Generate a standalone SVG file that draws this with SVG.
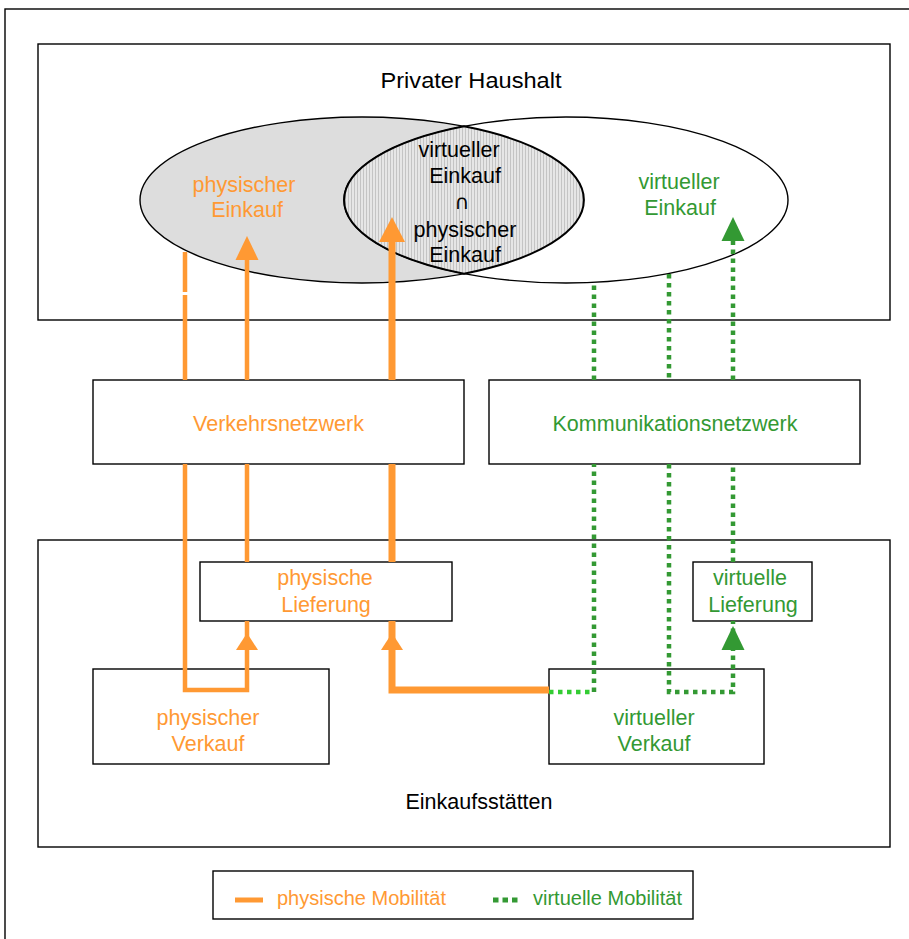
<svg xmlns="http://www.w3.org/2000/svg" xmlns:xlink="http://www.w3.org/1999/xlink" width="909" height="939" viewBox="0 0 909 939">
  <style>
    .frame { fill: none; stroke: #000; stroke-width: 1.4; }
    .box { fill: #fff; stroke: #000; stroke-width: 1.4; }
    .t { font-family: "Liberation Sans", Arial, "DejaVu Sans", sans-serif; font-size: 21.5px; text-anchor: middle; }
    .lg { font-family: "Liberation Sans", Arial, sans-serif; font-size: 20px; }
    .k { fill: #000; }
    .or { fill: #ff9933; }
    .gr { fill: #339933; }
    .phys { fill: none; stroke: #ff9933; stroke-width: 4.5; }
    .thick { stroke-width: 7; }
    .virt { fill: none; stroke: #339933; stroke-width: 4.5; stroke-dasharray: 4.5 4.5; }
    .virtLight { stroke: #33cc33; }
  </style>
  <defs>
    <pattern id="stripes" width="3" height="10" patternUnits="userSpaceOnUse">
      <rect width="3" height="10" fill="#e6e6e6"/>
      <rect width="1" height="10" fill="#c4c4c4"/>
    </pattern>
    <!-- upward arrowheads, tip at the origin -->
    <path id="headUp" d="M0,0 L11.5,24 L-11.5,24 Z"/>
    <path id="headUpWide" d="M0,0 L13,25 L-13,25 Z"/>
    <path id="headShort" d="M0,0 L11,17 L-11,17 Z"/>
  </defs>

  <!-- outer frame -->
  <rect class="frame" x="5" y="9" width="920" height="950"/>

  <!-- household -->
  <g id="privater-haushalt">
    <rect class="frame" x="38" y="44" width="852" height="276"/>
    <text class="t k" x="471" y="88" textLength="181" lengthAdjust="spacingAndGlyphs">Privater Haushalt</text>
  </g>

  <g id="physischer-einkauf">
    <ellipse cx="362" cy="200" rx="222" ry="83" fill="#dddddd" stroke="#000" stroke-width="1.4"/>
    <text class="t or" x="244" y="192">physischer</text>
    <text class="t or" x="247" y="217">Einkauf</text>
  </g>

  <g id="virtueller-einkauf">
    <ellipse cx="566" cy="200" rx="222" ry="83" fill="#fff" stroke="#000" stroke-width="1.4"/>
    <text class="t gr" x="679" y="189">virtueller</text>
    <text class="t gr" x="680" y="215">Einkauf</text>
  </g>

  <g id="schnittmenge">
    <path d="M464,126.3 A222,83 0 0,1 464,273.7 A222,83 0 0,1 464,126.3 Z" fill="url(#stripes)" stroke="#000" stroke-width="2"/>
    <text class="t k" x="459" y="157">virtueller</text>
    <text class="t k" x="465" y="183">Einkauf</text>
    <text class="t k" x="462" y="209" style="font-family:'DejaVu Sans',sans-serif;font-size:20px">∩</text>
    <text class="t k" x="465" y="237">physischer</text>
    <text class="t k" x="465" y="262">Einkauf</text>
  </g>

  <!-- networks -->
  <g id="verkehrsnetzwerk">
    <rect class="box" x="93" y="380" width="371" height="84"/>
    <text class="t or" x="278.5" y="431">Verkehrsnetzwerk</text>
  </g>
  <g id="kommunikationsnetzwerk">
    <rect class="box" x="489" y="380" width="371" height="84"/>
    <text class="t gr" x="675" y="431">Kommunikationsnetzwerk</text>
  </g>

  <!-- shops -->
  <g id="einkaufsstaetten">
    <rect class="frame" x="38" y="540" width="852" height="307"/>
    <text class="t k" x="479" y="809">Einkaufsstätten</text>
  </g>
  <g id="physische-lieferung">
    <rect class="box" x="200" y="562" width="252" height="59"/>
    <text class="t or" x="325" y="585">physische</text>
    <text class="t or" x="326" y="612">Lieferung</text>
  </g>
  <g id="virtuelle-lieferung">
    <rect class="box" x="693" y="562" width="119" height="59"/>
    <text class="t gr" x="750" y="585">virtuelle</text>
    <text class="t gr" x="753" y="612">Lieferung</text>
  </g>
  <g id="physischer-verkauf">
    <rect class="box" x="93" y="669" width="236" height="95"/>
    <text class="t or" x="208" y="725">physischer</text>
    <text class="t or" x="208" y="751">Verkauf</text>
  </g>
  <g id="virtueller-verkauf">
    <rect class="box" x="549" y="669" width="215" height="95"/>
    <text class="t gr" x="654" y="725">virtueller</text>
    <text class="t gr" x="654" y="751">Verkauf</text>
  </g>

  <!-- flows -->
  <g id="connectors">
    <!-- physical flow: sale -> delivery -> household -->
    <path class="phys" d="M185,252 V292 M185,295 V380 M185,464 V690 H247 V621"/>
    <path class="phys" d="M247,562 V464 M247,380 V258"/>
    <use xlink:href="#headShort" x="247" y="633" class="or"/>
    <use xlink:href="#headUp" x="247" y="236" class="or"/>

    <!-- physical delivery of a virtual purchase -->
    <path class="phys thick" d="M549,690 H392 V621"/>
    <path class="phys thick" d="M392,562 V464 M392,380 V240"/>
    <use xlink:href="#headShort" x="392" y="633" class="or"/>
    <use xlink:href="#headUpWide" x="392" y="217" class="or"/>

    <!-- virtual flows -->
    <path class="virt virtLight" d="M549,692 H594"/>
    <path class="virt" d="M594,692 V464 M594,380 V282"/>
    <path class="virt" d="M669,274 V380 M669,464 V692 H733 V621"/>
    <path class="virt" d="M733,562 V464 M733,380 V240"/>
    <use xlink:href="#headUp" x="733" y="626" class="gr"/>
    <use xlink:href="#headUp" x="733" y="217" class="gr"/>
  </g>

  <!-- key -->
  <g id="legende">
    <rect class="box" x="213" y="871" width="480" height="48"/>
    <line x1="235" y1="900" x2="263" y2="900" stroke="#ff9933" stroke-width="5"/>
    <text class="lg or" x="277" y="905">physische Mobilität</text>
    <line x1="493" y1="900" x2="521" y2="900" stroke="#339933" stroke-width="5" stroke-dasharray="5.5 4"/>
    <text class="lg gr" x="533" y="905">virtuelle Mobilität</text>
  </g>
</svg>
